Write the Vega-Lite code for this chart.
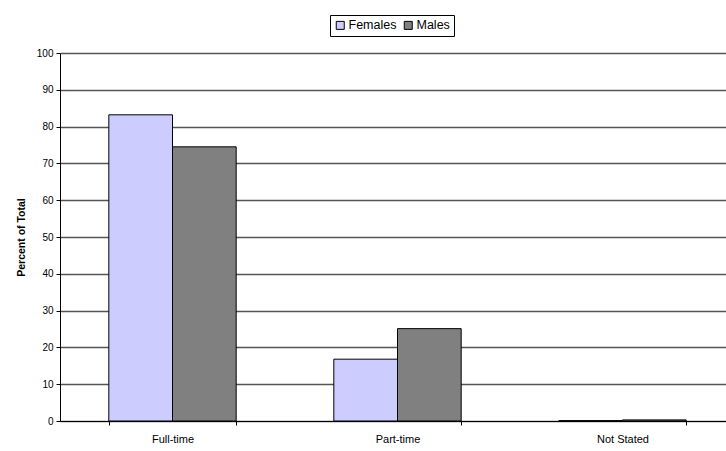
{
  "$schema": "https://vega.github.io/schema/vega-lite/v6.json",
  "autosize": {"type": "none"},
  "padding": {"left": 60, "top": 53, "right": 0, "bottom": 30},
  "width": 675,
  "height": 368,
  "background": "white",
  "config": {
    "font": "Liberation Sans",
    "view": {"stroke": null}
  },
  "data": {
    "values": [
      {"status": "Full-time", "sex": "Females", "pct": 83.2},
      {"status": "Full-time", "sex": "Males", "pct": 74.5},
      {"status": "Part-time", "sex": "Females", "pct": 16.8},
      {"status": "Part-time", "sex": "Males", "pct": 25.1},
      {"status": "Not Stated", "sex": "Females", "pct": 0.1},
      {"status": "Not Stated", "sex": "Males", "pct": 0.3}
    ]
  },
  "mark": {"type": "bar", "stroke": "black", "strokeWidth": 1},
  "encoding": {
    "x": {
      "field": "status",
      "type": "nominal",
      "sort": ["Full-time", "Part-time", "Not Stated"],
      "scale": {"paddingInner": 0.434, "paddingOuter": 0.217},
      "axis": {
        "title": null,
        "labelAngle": 0,
        "labelFontSize": 11,
        "labelColor": "black",
        "labelPadding": 8,
        "tickBand": "extent",
        "tickColor": "black",
        "tickSize": 4,
        "domainColor": "black",
        "grid": false
      }
    },
    "xOffset": {"field": "sex", "type": "nominal", "sort": ["Females", "Males"], "scale": {"paddingInner": 0, "paddingOuter": 0}},
    "y": {
      "field": "pct",
      "type": "quantitative",
      "scale": {"domain": [0, 100], "nice": false},
      "axis": {
        "title": "Percent of Total",
        "titleFontSize": 10.5,
        "titleFontWeight": "bold",
        "titleColor": "black",
        "titlePadding": 10,
        "values": [0, 10, 20, 30, 40, 50, 60, 70, 80, 90, 100],
        "labelFontSize": 10,
        "labelColor": "black",
        "labelPadding": 3,
        "tickColor": "black",
        "tickSize": 4,
        "domainColor": "black",
        "gridColor": "#555555",
        "gridOpacity": 1,
        "gridWidth": 1.3
      }
    },
    "color": {
      "field": "sex",
      "type": "nominal",
      "sort": ["Females", "Males"],
      "scale": {"domain": ["Females", "Males"], "range": ["#CCCCFF", "#808080"]},
      "legend": {
        "title": null,
        "orient": "none",
        "direction": "horizontal",
        "legendX": 270,
        "legendY": -38,
        "strokeColor": "black",
        "padding": 4,
        "symbolType": "square",
        "symbolSize": 64,
        "symbolStrokeColor": "black",
        "symbolStrokeWidth": 1,
        "labelFontSize": 12.5,
        "labelColor": "black",
        "labelOffset": 2,
        "columnPadding": 5
      }
    }
  }
}
